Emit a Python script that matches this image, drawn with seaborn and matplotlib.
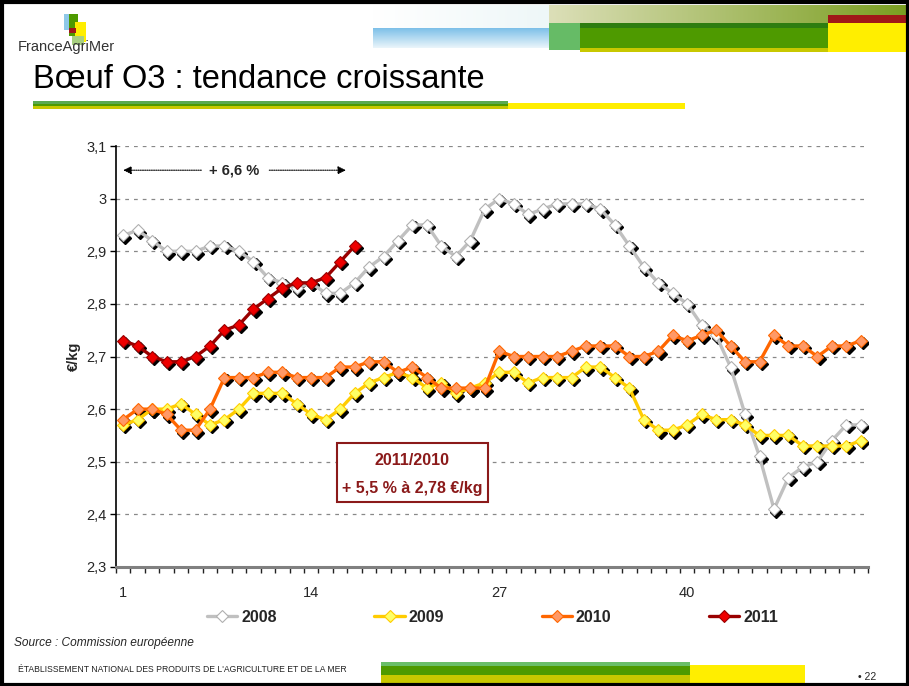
import numpy as np
import pandas as pd
import seaborn as sns
import matplotlib.pyplot as plt
from matplotlib.transforms import offset_copy
from matplotlib.ticker import FuncFormatter, FixedLocator, MultipleLocator
from matplotlib.lines import Line2D
from matplotlib.patches import Rectangle

# prix hebdomadaires boeuf O3 (EUR/kg)
semaines = list(range(1, 53))
prix_2008 = [2.93, 2.94, 2.92, 2.90, 2.90, 2.90, 2.91, 2.91, 2.90, 2.88,
             2.85, 2.84, 2.83, 2.84, 2.82, 2.82, 2.84, 2.87, 2.89, 2.92,
             2.95, 2.95, 2.91, 2.89, 2.92, 2.98, 3.00, 2.99, 2.97, 2.98,
             2.99, 2.99, 2.99, 2.98, 2.95, 2.91, 2.87, 2.84, 2.82, 2.80,
             2.76, 2.74, 2.68, 2.59, 2.51, 2.41, 2.47, 2.49, 2.50, 2.54,
             2.57, 2.57]
prix_2009 = [2.57, 2.58, 2.60, 2.60, 2.61, 2.59, 2.57, 2.58, 2.60, 2.63,
             2.63, 2.63, 2.61, 2.59, 2.58, 2.60, 2.63, 2.65, 2.66, 2.67,
             2.66, 2.64, 2.65, 2.63, 2.64, 2.65, 2.67, 2.67, 2.65, 2.66,
             2.66, 2.66, 2.68, 2.68, 2.66, 2.64, 2.58, 2.56, 2.56, 2.57,
             2.59, 2.58, 2.58, 2.57, 2.55, 2.55, 2.55, 2.53, 2.53, 2.53,
             2.53, 2.54]
prix_2010 = [2.58, 2.60, 2.60, 2.59, 2.56, 2.56, 2.60, 2.66, 2.66, 2.66,
             2.67, 2.67, 2.66, 2.66, 2.66, 2.68, 2.68, 2.69, 2.69, 2.67,
             2.68, 2.66, 2.64, 2.64, 2.64, 2.64, 2.71, 2.70, 2.70, 2.70,
             2.70, 2.71, 2.72, 2.72, 2.72, 2.70, 2.70, 2.71, 2.74, 2.73,
             2.74, 2.75, 2.72, 2.69, 2.69, 2.74, 2.72, 2.72, 2.70, 2.72,
             2.72, 2.73]
prix_2011 = [2.73, 2.72, 2.70, 2.69, 2.69, 2.70, 2.72, 2.75, 2.76, 2.79,
             2.81, 2.83, 2.84, 2.84, 2.85, 2.88, 2.91]

annees = ['2008', '2009', '2010', '2011']
couleurs_ligne = ['#C0C0C0', '#FFCC00', '#FF6600', '#990000']
couleurs_point = ['#FFFFFF', '#FFFF66', '#FF9966', '#EE0000']
couleurs_bord = ['#B0B0B0', '#FFCC00', '#FF6600', '#990000']
tous_prix = [prix_2008, prix_2009, prix_2010, prix_2011]

sns.set_theme(style='white')
plt.rcParams['font.family'] = ['Liberation Sans', 'DejaVu Sans']

fig = plt.figure(figsize=(9.09, 6.86), dpi=100)

# --- decor de la diapositive (coordonnees en pixels) ---
deco = fig.add_axes([0, 0, 1, 1], zorder=0)
deco.set_xlim(0, 909)
deco.set_ylim(686, 0)
deco.axis('off')


def bloc(x0, y0, x1, y1, c):
    deco.add_patch(Rectangle((x0, y0), x1 - x0, y1 - y0, color=c, lw=0))


# barre bleue en degrade
grad_v = np.linspace(0, 1, 50).reshape(-1, 1)
deco.imshow(grad_v, extent=(373, 549, 48, 28), aspect='auto',
            cmap=sns.blend_palette(['#7DC0E8', '#EAF5FB'], as_cmap=True))
grad_h = np.linspace(0, 1, 200).reshape(1, -1)
deco.imshow(grad_h, extent=(373, 549, 28, 5), aspect='auto',
            cmap=sns.blend_palette(['#FFFFFF', '#EEF7F8'], as_cmap=True))
deco.imshow(grad_h, extent=(549, 909, 23, 5), aspect='auto',
            cmap=sns.blend_palette(['#DCDFB8', '#7A9E20'], as_cmap=True))
bloc(549, 23, 580, 50, '#66BB66')
bloc(580, 23, 828, 28, '#2E7D10')
bloc(580, 28, 828, 48, '#4E9A00')
bloc(580, 48, 828, 52, '#C8C800')
bloc(828, 15, 909, 23, '#A01818')
bloc(828, 23, 909, 52, '#FFEE00')

# logo
bloc(64, 14, 72, 30, '#8EC8E8')
bloc(69, 14, 78, 36, '#4E9A00')
bloc(75, 22, 86, 42, '#FFEE00')
bloc(69, 28, 76, 33, '#A01818')
bloc(72, 36, 84, 45, '#A8D080')
deco.text(18, 47, 'FranceAgriMer', fontsize=10.5, color='#333333',
          family=['Liberation Sans Narrow', 'Liberation Sans'], va='center')

# titre
deco.text(33, 80, 'Bœuf O3 : tendance croissante', fontsize=23.5, color='black',
          va='center')
bloc(33, 101, 508, 104, '#5AAA50')
bloc(33, 104, 508, 106, '#4E9A00')
bloc(33, 106, 508, 109, '#C8C800')
bloc(508, 103, 685, 109, '#FFEE00')

# pied de page
deco.text(14, 643, 'Source : Commission européenne', fontsize=8.6,
          style='italic', va='center')
deco.text(18, 670, "ÉTABLISSEMENT NATIONAL DES PRODUITS DE L'AGRICULTURE ET DE LA MER",
          fontsize=6.2, family=['Liberation Sans Narrow', 'Liberation Sans'],
          va='center', color='#222222')
bloc(381, 662, 690, 666, '#6ABF69')
bloc(381, 666, 690, 675, '#4E9A00')
bloc(381, 675, 690, 686, '#C8C800')
bloc(690, 665, 805, 686, '#FFEE00')
deco.text(858, 677, '• 22', fontsize=7.5, va='center')
deco.add_patch(Rectangle((1.5, 1.5), 906, 683, fill=False, ec='black', lw=3))

# --- graphique ---
ax = fig.add_axes([116 / 909, 1 - 567 / 686, (868 - 116) / 909, (567 - 146) / 686],
                  zorder=2)
ax.set_facecolor('white')

ombre = offset_copy(ax.transData, fig=fig, x=1.6, y=-1.8, units='points')
for annee, prix, cl, cp, cb in zip(annees, tous_prix, couleurs_ligne,
                                   couleurs_point, couleurs_bord):
    df = pd.DataFrame({'semaine': semaines[:len(prix)], 'prix': prix})
    ax.plot(df['semaine'], df['prix'], linestyle='none', marker='D',
            markersize=5.8, color='black', transform=ombre, zorder=3)
    sns.lineplot(data=df, x='semaine', y='prix', ax=ax, color=cl, lw=2.4,
                 marker='D', markersize=5.8, markerfacecolor=cp,
                 markeredgecolor=cb, markeredgewidth=0.8, zorder=4)

ax.set_xlim(0.5, 52.5)
ax.set_ylim(2.3, 3.1)
ax.yaxis.set_major_locator(MultipleLocator(0.1))
ax.yaxis.set_major_formatter(FuncFormatter(lambda v, p: ('%g' % round(v, 2)).replace('.', ',')))
ax.xaxis.set_major_locator(FixedLocator([1, 14, 27, 40]))
ax.xaxis.set_minor_locator(FixedLocator(np.arange(0.5, 53, 1)))
ax.tick_params(axis='x', which='major', length=0, pad=14, labelsize=10.5)
ax.tick_params(axis='x', which='minor', length=4, width=1, color='#222222',
               direction='out', bottom=True)
ax.tick_params(axis='y', length=4, width=1, color='black', direction='out',
               left=True, labelsize=10.5, pad=3)
ax.yaxis.grid(True, linestyle=(0, (3, 4)), color='#888888', lw=0.9)
ax.xaxis.grid(False)
for s in ['top', 'right']:
    ax.spines[s].set_visible(False)
ax.spines['left'].set_color('black')
ax.spines['left'].set_linewidth(1.2)
ax.spines['bottom'].set_color('#808080')
ax.spines['bottom'].set_linewidth(2.2)
ax.set_xlabel('')
ax.set_ylabel('€/kg', fontsize=10.5, fontweight='bold', labelpad=4)

# fleche +6,6 %
fl = dict(arrowstyle='-|>', linestyle=(0, (1, 1)), color='black', lw=0.8,
          mutation_scale=12, shrinkA=0, shrinkB=0)
ax.annotate('', xy=(1.0, 3.054), xytext=(6.4, 3.054), arrowprops=fl)
ax.annotate('', xy=(16.4, 3.054), xytext=(11.1, 3.054), arrowprops=fl)
ax.text(8.7, 3.054, '+ 6,6 %', fontsize=10.5, fontweight='bold',
        ha='center', va='center')

# encadre 2011/2010
ax.add_patch(Rectangle((15.75, 2.4235), 10.5, 0.1125, fill=True, fc='white',
                       ec='#8B1A1A', lw=1.5, zorder=5))
ax.text(21.0, 2.503, '2011/2010', fontsize=11.5, fontweight='bold',
        color='#8B1A1A', ha='center', va='center', zorder=6)
ax.text(21.0, 2.449, '+ 5,5 % à 2,78 €/kg', fontsize=11.5, fontweight='bold',
        color='#8B1A1A', ha='center', va='center', zorder=6)

# legende
poignees = [Line2D([0], [0], color=cl, lw=2.4, marker='D', markersize=5.8,
                   markerfacecolor=cp, markeredgecolor=cb, markeredgewidth=0.8)
            for cl, cp, cb in zip(couleurs_ligne, couleurs_point, couleurs_bord)]
fig.legend(poignees, annees, loc='center', bbox_to_anchor=(0.542, 1 - 617 / 686),
           ncol=4, frameon=False, prop={'weight': 'bold', 'size': 11.5},
           columnspacing=6.1, handlelength=1.9, handletextpad=0.25)

plt.savefig('out.png', dpi=100)
